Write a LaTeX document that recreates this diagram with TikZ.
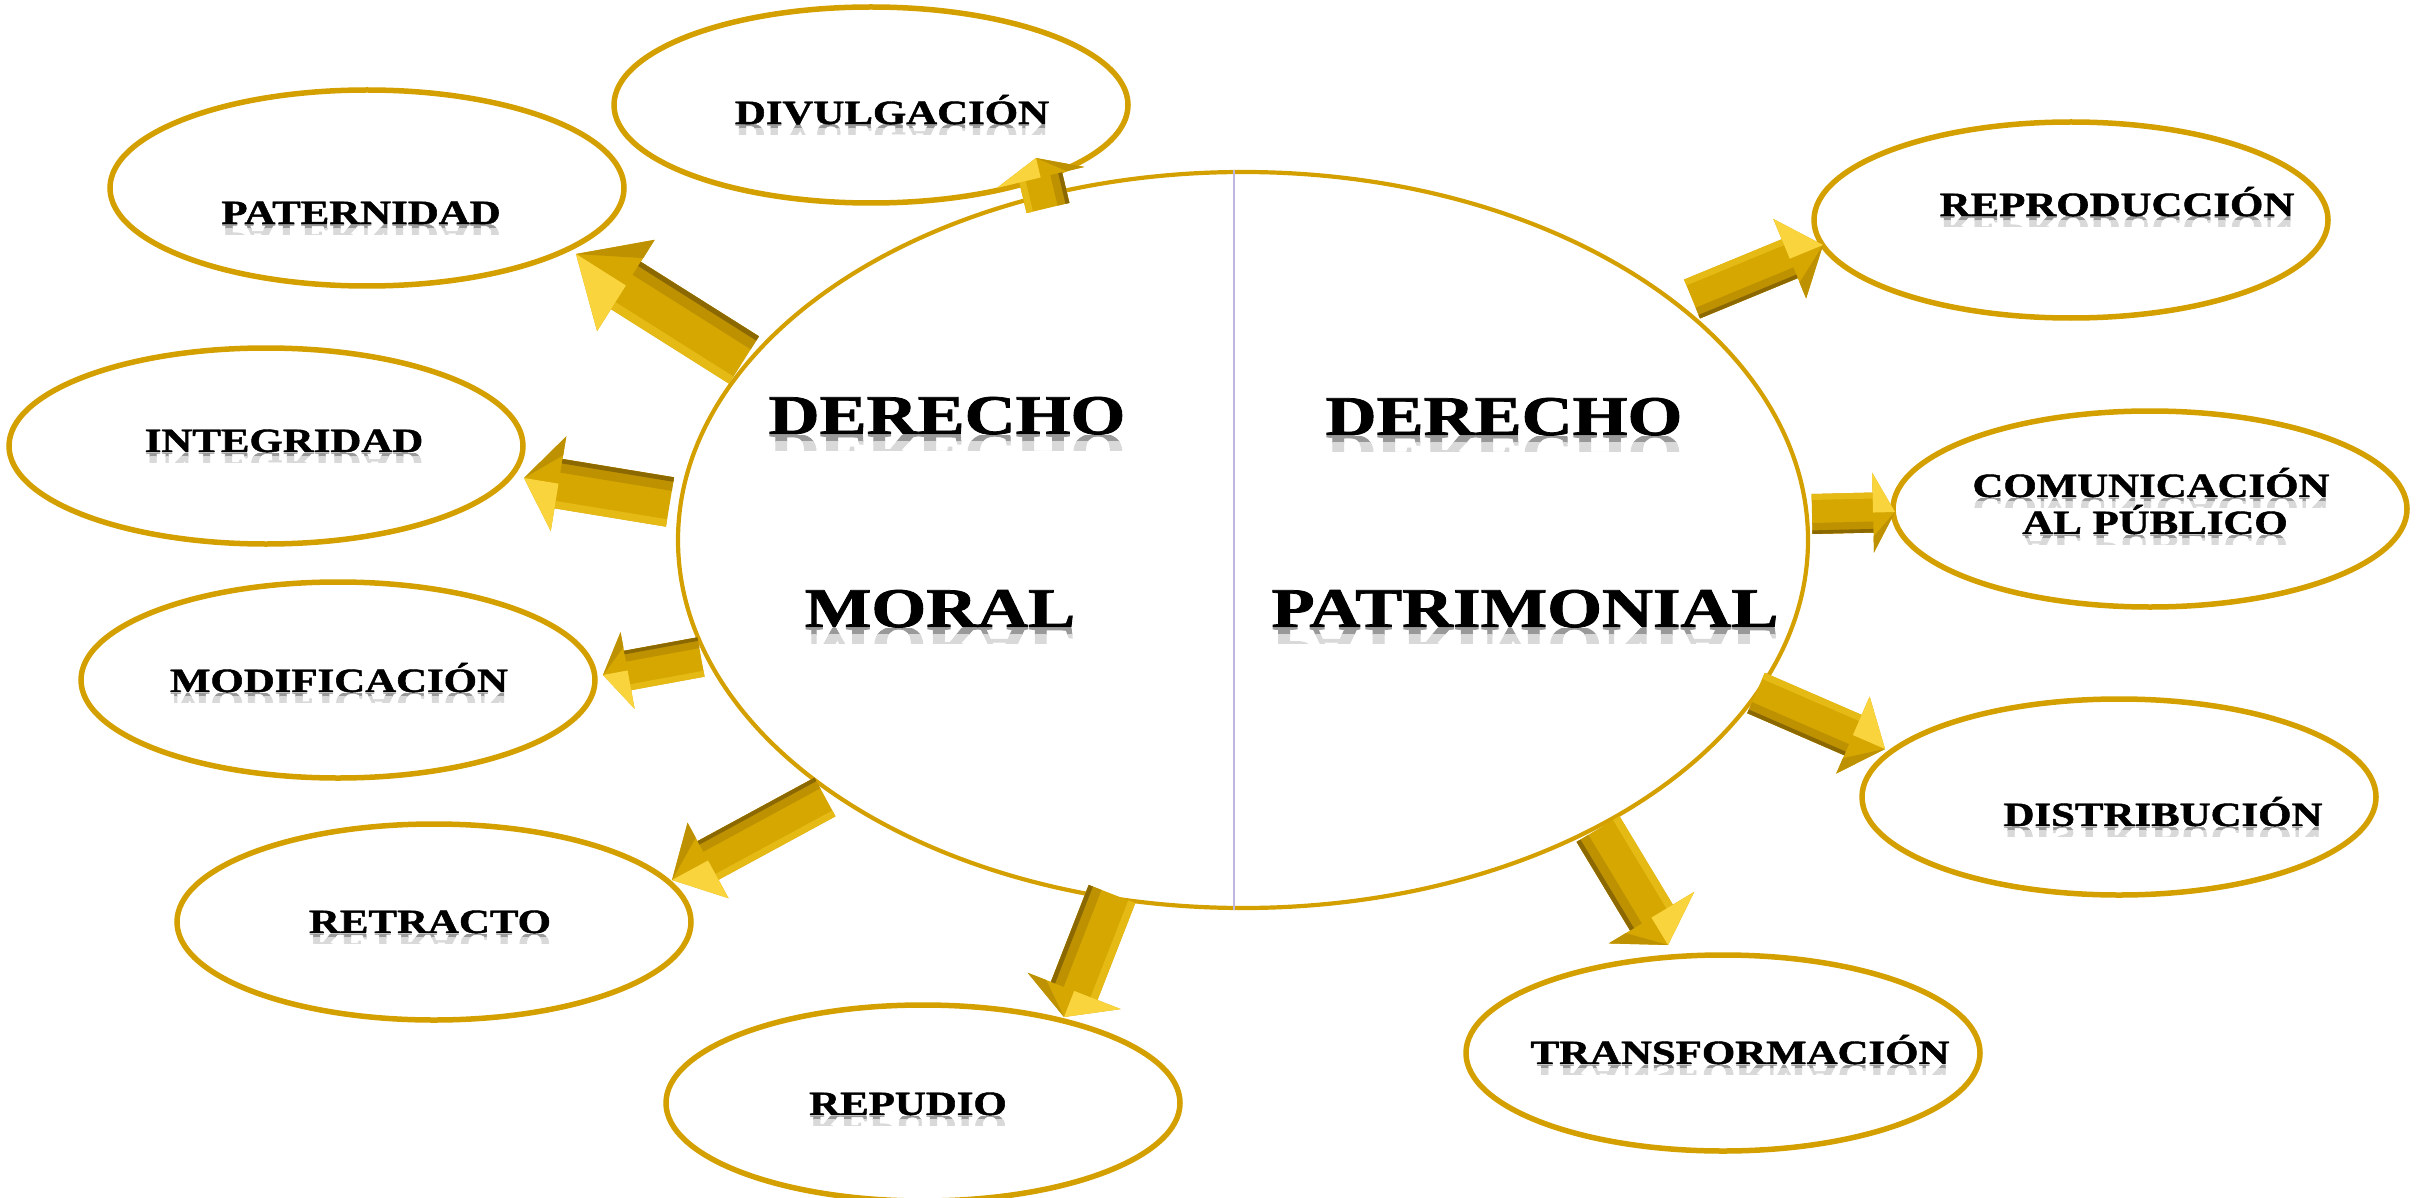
\documentclass[tikz,border=0pt]{standalone}
\usepackage{fontspec}
\setmainfont{Liberation Serif}
\newfontfamily\lblfont{Liberation Serif}[BoldFeatures={FakeBold=1.3}]
\usepackage{graphicx}
\usetikzlibrary{shapes.geometric,calc}
\definecolor{goldline}{RGB}{212,160,0}
\definecolor{goldfill}{RGB}{214,167,0}
\definecolor{goldmid}{RGB}{190,145,0}
\definecolor{golddark}{RGB}{140,104,0}
\definecolor{goldlight}{RGB}{230,186,20}
\definecolor{goldhi}{RGB}{250,212,60}
\definecolor{vlinecol}{RGB}{190,182,222}
\tikzset{
  ell/.style={ellipse, draw=goldline, line width=5.5pt, inner sep=0pt, minimum width=514pt, minimum height=196pt},
  bigell/.style={ellipse, draw=goldline, line width=4.2pt, inner sep=0pt, minimum width=1130pt, minimum height=736pt},
  lab/.style={anchor=base, inner sep=0pt, text=black},
  refl/.style={anchor=base, inner sep=0pt, yscale=-1, transform shape},
  divline/.style={draw=vlinecol, line width=2pt},
}
% #1 name, #2 x, #3 baseline y, #4 font size, #5 text
\newcommand\lbl[5]{%
  \begin{scope}
    \clip (#2-460,#3+1) rectangle (#2+460,#3+0.14*#4);
    \node[refl, text=black!40, font={\lblfont\fontsize{#4}{#4}\selectfont\bfseries}] (#1ra) at (#2,#3) {\scalebox{1.26}[1]{#5}};
  \end{scope}
  \begin{scope}
    \clip (#2-460,#3+0.14*#4) rectangle (#2+460,#3+0.3*#4);
    \node[refl, text=black!15, font={\lblfont\fontsize{#4}{#4}\selectfont\bfseries}] (#1rb) at (#2,#3) {\scalebox{1.26}[1]{#5}};
  \end{scope}
  \node[lab, font={\lblfont\fontsize{#4}{#4}\selectfont\bfseries}] (#1) at (#2,#3) {\scalebox{1.26}[1]{#5}};
}
% #1 tail, #2 tip, #3 half shaft, #4 half head, #5 head length, #6 name
\newcommand\goldarrow[6]{%
  \coordinate (#6b) at ($(#2)!#5pt!(#1)$);
  \fill[goldfill] ($(#1)!#3pt!90:(#2)$) -- ($(#6b)!#3pt!90:(#2)$) -- ($(#6b)!#4pt!90:(#2)$) -- (#2)
     -- ($(#6b)!#4pt!-90:(#2)$) -- ($(#6b)!#3pt!-90:(#2)$) -- ($(#1)!#3pt!-90:(#2)$) -- cycle;
  \fill[goldmid] ($(#1)!#3pt!-90:(#2)$) -- ($(#6b)!#3pt!-90:(#2)$) -- ($(#6b)!0.45*#3pt!-90:(#2)$) -- ($(#1)!0.45*#3pt!-90:(#2)$) -- cycle;
  \fill[golddark] ($(#1)!#3pt!-90:(#2)$) -- ($(#6b)!#3pt!-90:(#2)$) -- ($(#6b)!0.82*#3pt!-90:(#2)$) -- ($(#1)!0.82*#3pt!-90:(#2)$) -- cycle;
  \fill[goldlight] ($(#1)!#3pt!90:(#2)$) -- ($(#6b)!#3pt!90:(#2)$) -- ($(#6b)!0.7*#3pt!90:(#2)$) -- ($(#1)!0.7*#3pt!90:(#2)$) -- cycle;
  \fill[goldhi] (#2) -- ($(#6b)!#4pt!90:(#2)$) -- (#6b) -- cycle;
  \fill[goldmid] (#2) -- ($(#6b)!#4pt!-90:(#2)$) -- ($(#6b)!0.6*#4pt!-90:(#2)$) -- cycle;
}
\begin{document}
\begin{tikzpicture}[x=1pt,y=-1pt]
\fill[white] (0,0) rectangle (2422,1198);
\useasboundingbox (0,0) rectangle (2422,1198);

% central ellipse and divider
\node[bigell] (cen) at (1243,540) {};
\draw[divline] ([xshift=-9pt]cen.north) -- ([xshift=-9pt]cen.south);

% outer ellipses
\node[ell] (div) at (871,105) {};
\node[ell] (pat) at (367,188) {};
\node[ell] (int) at (266,446) {};
\node[ell] (mod) at (338,680) {};
\node[ell] (ret) at (434,922) {};
\node[ell] (rep) at (923,1103) {};
\node[ell] (rpr) at (2071,220) {};
\node[ell] (com) at (2150,509) {};
\node[ell] (dis) at (2119,797) {};
\node[ell] (tra) at (1723,1053) {};

% arrow end points
\coordinate (t1) at (1048,208);  \coordinate (p1) at (1036,158);
\coordinate (t2) at (744,360);   \coordinate (p2) at (576,254);
\coordinate (t3) at (670,502);   \coordinate (p3) at (524,478);
\coordinate (t4) at (701,657);   \coordinate (p4) at (603,675);
\coordinate (t5) at (825,797);   \coordinate (p5) at (672,880);
\coordinate (t6) at (1112,894);  \coordinate (p6) at (1064,1017);
\coordinate (t7) at (1692,299);  \coordinate (p7) at (1823,245);
\coordinate (t8) at (1812,514);  \coordinate (p8) at (1895,512);
\coordinate (t9) at (1756,693);  \coordinate (p9) at (1885,749);
\coordinate (t10) at (1598,829); \coordinate (p10) at (1668,945);

\goldarrow{t1}{p1}{22}{45}{20}{a1}
\goldarrow{t2}{p2}{28}{54}{59}{a2}
\goldarrow{t3}{p3}{25}{48}{35}{a3}
\goldarrow{t4}{p4}{20}{39}{25}{a4}
\goldarrow{t5}{p5}{22}{43}{41}{a5}
\goldarrow{t6}{p6}{25}{50}{28}{a6}
\goldarrow{t7}{p7}{21}{43}{36}{a7}
\goldarrow{t8}{p8}{20}{40}{22}{a8}
\goldarrow{t9}{p9}{22}{42}{35}{a9}
\goldarrow{t10}{p10}{25}{50}{32}{a10}

% labels
\lbl{tdiv}{892}{124}{34}{DIVULGACIÓN}
\lbl{tpat}{361}{224}{34}{PATERNIDAD}
\lbl{tint}{284}{452}{34}{INTEGRIDAD}
\lbl{tmod}{339}{692}{34}{MODIFICACIÓN}
\lbl{tret}{430}{933}{34}{RETRACTO}
\lbl{trep}{908}{1115}{34}{REPUDIO}
\lbl{trpr}{2117}{216}{34}{REPRODUCCIÓN}
\lbl{tcoma}{2151}{497}{34}{COMUNICACIÓN}
\lbl{tcomb}{2155}{534}{34}{AL PÚBLICO}
\lbl{tdis}{2163}{826}{34}{DISTRIBUCIÓN}
\lbl{ttra}{1740}{1064}{34}{TRANSFORMACIÓN}
\lbl{tdma}{947}{434}{56}{DERECHO}
\lbl{tdmb}{940}{627}{56}{MORAL}
\lbl{tdpa}{1504}{435}{56}{DERECHO}
\lbl{tdpb}{1525}{627}{56}{PATRIMONIAL}
\end{tikzpicture}
\end{document}
